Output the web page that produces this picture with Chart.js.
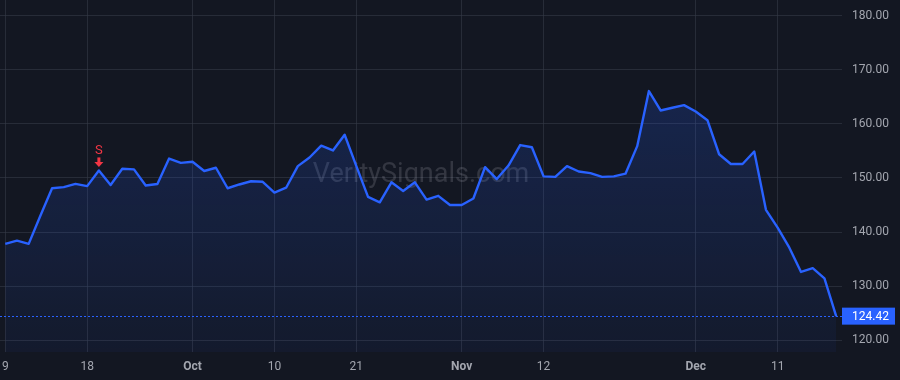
<!DOCTYPE html>
<html>
<head>
<meta charset="utf-8">
<script src="https://cdn.jsdelivr.net/npm/chart.js@4.4.1/dist/chart.umd.min.js"></script>
<style>
  html, body { margin: 0; padding: 0; background: #131722; }
  #wrap { width: 900px; height: 380px; position: relative; }
</style>
</head>
<body>
<div id="wrap"><canvas id="priceChart"></canvas></div>
<script>
// trading days shown on the chart
const dates = [
  '2024-09-09','2024-09-10','2024-09-11','2024-09-12','2024-09-13','2024-09-16','2024-09-17','2024-09-18',
  '2024-09-19','2024-09-20','2024-09-23','2024-09-24','2024-09-25','2024-09-26','2024-09-27','2024-09-30',
  '2024-10-01','2024-10-02','2024-10-03','2024-10-04','2024-10-07','2024-10-08','2024-10-09','2024-10-10',
  '2024-10-11','2024-10-14','2024-10-15','2024-10-16','2024-10-17','2024-10-18','2024-10-21','2024-10-22',
  '2024-10-23','2024-10-24','2024-10-25','2024-10-28','2024-10-29','2024-10-30','2024-10-31','2024-11-01',
  '2024-11-04','2024-11-05','2024-11-06','2024-11-07','2024-11-08','2024-11-11','2024-11-12','2024-11-13',
  '2024-11-14','2024-11-15','2024-11-18','2024-11-19','2024-11-20','2024-11-21','2024-11-22','2024-11-25',
  '2024-11-26','2024-11-27','2024-11-29','2024-12-02','2024-12-03','2024-12-04','2024-12-05','2024-12-06',
  '2024-12-09','2024-12-10','2024-12-11','2024-12-12','2024-12-13','2024-12-16','2024-12-17','2024-12-18'
];

const closes = [
  137.8, 138.4, 137.8, 143.0, 148.1, 148.3, 148.9, 148.5,
  151.4, 148.7, 151.7, 151.6, 148.6, 148.9, 153.6, 152.8,
  153.0, 151.3, 151.9, 148.1, 148.8, 149.4, 149.3, 147.3,
  148.2, 152.2, 153.8, 156.0, 155.1, 158.0, 152.2, 146.5,
  145.5, 149.2, 147.6, 149.2, 146.0, 146.7, 145.0, 145.0,
  146.2, 152.0, 149.8, 152.3, 156.1, 155.7, 150.3, 150.2,
  152.2, 151.2, 150.9, 150.2, 150.3, 150.8, 155.9, 166.1,
  162.5, 163.0, 163.5, 162.3, 160.7, 154.4, 152.6, 152.6,
  154.9, 144.1, 140.8, 137.1, 132.6, 133.3, 131.4, 124.42
];

const tickDates = ['2024-09-09','2024-09-18','2024-10-01','2024-10-10','2024-10-21','2024-11-01','2024-11-12','2024-12-02','2024-12-11'];
const tickLabels = ['9', '18', 'Oct', '10', '21', 'Nov', '12', 'Dec', '11'];
const monthLabels = ['Oct', 'Nov', 'Dec'];

const signalDate = '2024-09-19';
const signalText = 'S';
const watermarkText = 'VeritySignals.com';

const tickIndex = tickDates.map(d => dates.indexOf(d));
const lastValue = closes[closes.length - 1];
const fontFamily = 'Roboto, "Liberation Sans", Arial, sans-serif';
const textColor = '#a3a6af';
const gridColor = 'rgba(54, 58, 72, 0.6)';
const blue = '#2962ff';

const overlay = {
    id: 'overlay',
    beforeDatasetsDraw(chart) {
        const { ctx, chartArea } = chart;
        ctx.save();
        ctx.font = '27px ' + fontFamily;
        ctx.fillStyle = 'rgba(178, 181, 190, 0.2)';
        ctx.textAlign = 'center';
        ctx.textBaseline = 'alphabetic';
        ctx.fillText(watermarkText, (chartArea.left + chartArea.right) / 2, 182);
        ctx.restore();
    },
    afterDatasetsDraw(chart) {
        const { ctx, chartArea, scales } = chart;
        const y = Math.round(scales.y.getPixelForValue(lastValue)) + 0.5;
        ctx.save();
        ctx.strokeStyle = blue;
        ctx.lineWidth = 1;
        ctx.setLineDash([2, 2]);
        ctx.beginPath();
        ctx.moveTo(chartArea.left, y);
        ctx.lineTo(chartArea.right, y);
        ctx.stroke();
        ctx.setLineDash([]);

        // sell signal marker
        const idx = dates.indexOf(signalDate);
        const px = scales.x.getPixelForValue(idx);
        const py = scales.y.getPixelForValue(closes[idx]);
        ctx.fillStyle = '#f23645';
        ctx.beginPath();
        ctx.moveTo(px - 4.5, py - 8.5);
        ctx.lineTo(px + 4.5, py - 8.5);
        ctx.lineTo(px, py - 3.5);
        ctx.closePath();
        ctx.fill();
        ctx.fillRect(px - 1.5, py - 13, 3, 5);
        ctx.font = '13px ' + fontFamily;
        ctx.textAlign = 'center';
        ctx.textBaseline = 'alphabetic';
        ctx.fillText(signalText, px, py - 16);
        ctx.restore();
    },
    afterDraw(chart) {
        const { ctx, chartArea, scales } = chart;
        const y = scales.y.getPixelForValue(lastValue);
        ctx.save();
        ctx.fillStyle = blue;
        ctx.fillRect(chartArea.right, y - 8.5, 53, 17);
        ctx.fillStyle = '#ffffff';
        ctx.font = '12px ' + fontFamily;
        ctx.textAlign = 'left';
        ctx.textBaseline = 'middle';
        ctx.fillText(lastValue.toFixed(2), chartArea.right + 10, y + 0.5);
        ctx.restore();
    }
};

const ctx = document.getElementById('priceChart').getContext('2d');
new Chart(ctx, {
    type: 'line',
    data: {
        datasets: [{
            data: closes.map((v, i) => ({ x: i, y: v })),
            borderColor: blue,
            borderWidth: 2.4,
            borderJoinStyle: 'round',
            tension: 0,
            pointRadius: 0,
            fill: 'start',
            backgroundColor: (context) => {
                const area = context.chart.chartArea;
                if (!area) return 'rgba(41, 98, 255, 0.1)';
                const g = context.chart.ctx.createLinearGradient(0, area.top + 80, 0, area.bottom);
                g.addColorStop(0, 'rgba(41, 98, 255, 0.2)');
                g.addColorStop(1, 'rgba(41, 98, 255, 0.05)');
                return g;
            }
        }]
    },
    options: {
        responsive: true,
        maintainAspectRatio: false,
        animation: false,
        layout: { padding: 0 },
        plugins: {
            legend: { display: false },
            tooltip: { enabled: false }
        },
        scales: {
            x: {
                type: 'linear',
                min: -0.45,
                max: 71.5,
                border: { display: false },
                grid: { color: gridColor, drawTicks: false },
                afterBuildTicks: (scale) => {
                    scale.ticks = tickIndex.map(v => ({ value: v }));
                },
                afterFit: (scale) => {
                    scale.height = 28;
                    scale.paddingLeft = 0;
                    scale.paddingRight = 0;
                },
                ticks: {
                    autoSkip: false,
                    maxRotation: 0,
                    padding: 8,
                    color: textColor,
                    font: (c) => ({
                        family: fontFamily,
                        size: 12,
                        weight: monthLabels.includes(tickLabels[c.index]) ? 'bold' : 'normal'
                    }),
                    callback: (value) => tickLabels[tickIndex.indexOf(value)]
                }
            },
            y: {
                position: 'right',
                min: 117.78,
                max: 182.96,
                border: { display: false },
                grid: { color: gridColor, drawTicks: false },
                afterFit: (scale) => {
                    scale.width = 58;
                    scale.paddingTop = 0;
                    scale.paddingBottom = 0;
                },
                ticks: {
                    stepSize: 10,
                    includeBounds: false,
                    padding: 10,
                    color: textColor,
                    font: { family: fontFamily, size: 12 },
                    callback: (value) => value.toFixed(2)
                }
            }
        }
    },
    plugins: [overlay]
});
</script>
</body>
</html>
